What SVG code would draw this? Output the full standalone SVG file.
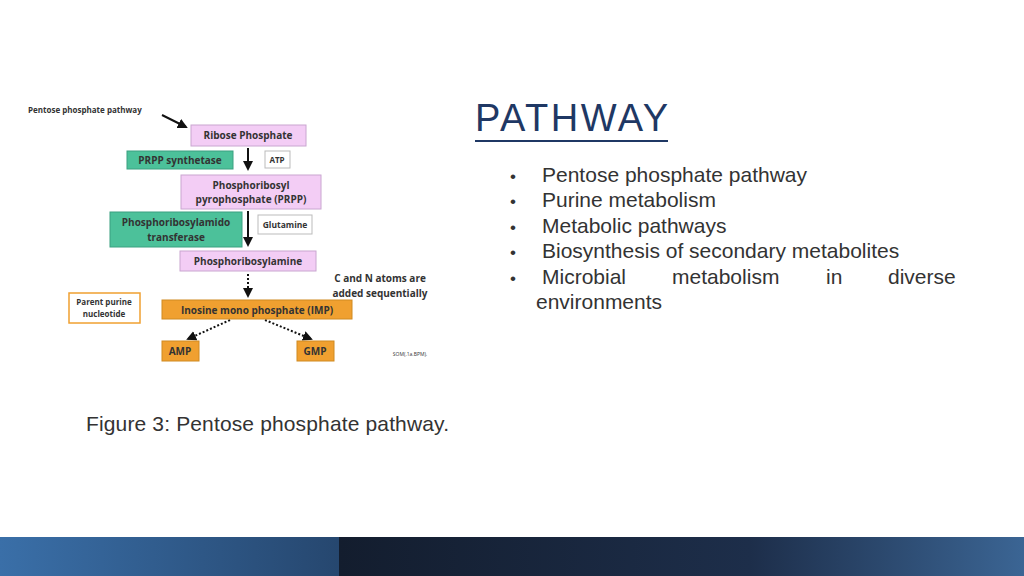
<svg xmlns="http://www.w3.org/2000/svg" width="1024" height="576" viewBox="0 0 1024 576">
<defs>
<style>
.d{font-family:"Open Sans","Liberation Sans",sans-serif;font-weight:bold;font-size:10px;fill:#333;text-anchor:middle}
.pk{fill:#f3cdf5;stroke:#c9a6d0;stroke-width:1}
.gr{fill:#4cc19a;stroke:#3aa080;stroke-width:1}
.or{fill:#f0a030;stroke:#d08a20;stroke-width:1}
.wb{fill:#fff;stroke:#bbb;stroke-width:1}
.b{font-family:"Liberation Sans",Arial,sans-serif;font-size:21px;fill:#333}
</style>
<marker id="ah" viewBox="0 0 10 10" refX="8" refY="5" markerWidth="5" markerHeight="5" orient="auto"><path d="M0,0L10,5L0,10z" fill="#111"/></marker>
<linearGradient id="g1" x1="0" x2="1"><stop offset="0" stop-color="#3a6fa8"/><stop offset="1" stop-color="#26476f"/></linearGradient>
<linearGradient id="g2" x1="0" x2="1"><stop offset="0" stop-color="#131d2e"/><stop offset="0.6" stop-color="#1d2e4a"/><stop offset="1" stop-color="#3b6594"/></linearGradient>
</defs>
<rect width="1024" height="576" fill="#fff"/>
<g id="connectors" stroke="#111" fill="none">
<path d="M162,115L186,127" stroke-width="2" marker-end="url(#ah)"/>
<path d="M248,148V169" stroke-width="2" marker-end="url(#ah)"/>
<path d="M248,211V245" stroke-width="2" marker-end="url(#ah)"/>
<path d="M248,274V296" stroke-width="2" stroke-dasharray="2,2" marker-end="url(#ah)"/>
<path d="M230,320L188,339" stroke-width="2" stroke-dasharray="2,2" marker-end="url(#ah)"/>
<path d="M265,320L311,339" stroke-width="2" stroke-dasharray="2,2" marker-end="url(#ah)"/>
</g>
<text x="28" y="113" class="d" style="text-anchor:start;font-size:8px">Pentose phosphate pathway</text>
<g id="ribose"><rect x="191" y="125" width="115" height="21" class="pk"/><text x="248" y="139" class="d">Ribose Phosphate</text></g>
<g id="prppsyn"><rect x="127" y="151" width="106" height="18" class="gr"/><text x="180" y="164" class="d">PRPP synthetase</text></g>
<g id="atp"><rect x="265" y="151" width="25" height="17" class="wb"/><text x="277" y="163" class="d" style="font-size:8px">ATP</text></g>
<g id="prpp"><rect x="181" y="175" width="140" height="34" class="pk"/><text x="251" y="189" class="d">Phosphoribosyl</text><text x="251" y="203" class="d">pyrophosphate (PRPP)</text></g>
<g id="amido"><rect x="110" y="212" width="132" height="35" class="gr"/><text x="176" y="226" class="d">Phosphoribosylamido</text><text x="176" y="241" class="d">transferase</text></g>
<g id="glut"><rect x="258" y="215" width="54" height="19" class="wb"/><text x="285" y="228" class="d" style="font-size:8.5px">Glutamine</text></g>
<g id="amine"><rect x="180" y="251" width="136" height="20" class="pk"/><text x="248" y="265" class="d">Phosphoribosylamine</text></g>
<text x="380" y="282" class="d">C and N atoms are</text>
<text x="380" y="297" class="d">added sequentially</text>
<g id="parent"><rect x="69" y="293" width="71" height="30" fill="#fff" stroke="#f0a030" stroke-width="1.5"/><text x="104" y="305" class="d" style="font-size:8px">Parent purine</text><text x="104" y="317" class="d" style="font-size:8px">nucleotide</text></g>
<g id="imp"><rect x="162" y="300" width="190" height="19" class="or"/><text x="257" y="314" class="d">Inosine mono phosphate (IMP)</text></g>
<g id="amp"><rect x="162" y="341" width="37" height="20" class="or"/><text x="180" y="355" class="d">AMP</text></g>
<g id="gmp"><rect x="297" y="341" width="37" height="20" class="or"/><text x="315" y="355" class="d">GMP</text></g>
<text x="410" y="356" class="d" style="font-size:5px;font-weight:normal">SOM(.1a.BPM).</text>
<text x="86" y="431" font-family="Liberation Sans,Arial,sans-serif" font-size="21" fill="#333" textLength="363">Figure 3: Pentose phosphate pathway.</text>
<text x="475" y="131" font-family="Liberation Sans,Arial,sans-serif" font-size="38" fill="#1f3864" textLength="193">PATHWAY</text>
<rect x="475" y="140" width="193" height="2" fill="#1f3864"/>
<g class="b">
<text x="510" y="182" font-size="17">•</text><text x="542" y="182">Pentose phosphate pathway</text>
<text x="510" y="207" font-size="17">•</text><text x="542" y="207">Purine metabolism</text>
<text x="510" y="233" font-size="17">•</text><text x="542" y="233">Metabolic pathways</text>
<text x="510" y="258" font-size="17">•</text><text x="542" y="258">Biosynthesis of secondary metabolites</text>
<text x="510" y="284" font-size="17">•</text><text x="542" y="284">Microbial</text><text x="672" y="284">metabolism</text><text x="826" y="284">in</text><text x="888" y="284">diverse</text>
<text x="536" y="309">environments</text>
</g>
<rect x="0" y="537" width="339" height="39" fill="url(#g1)"/>
<rect x="339" y="537" width="685" height="39" fill="url(#g2)"/>
</svg>
